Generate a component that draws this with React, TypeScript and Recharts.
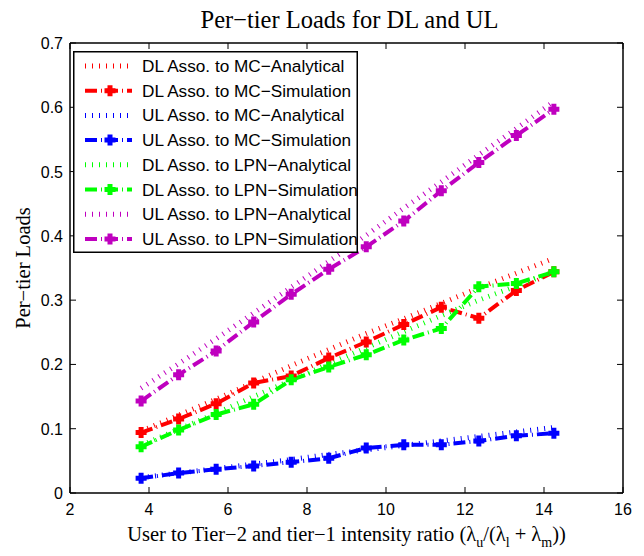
import React from 'react';
import {
  LineChart,
  Line,
  XAxis,
  YAxis,
  Legend,
} from 'recharts';

// x positions (user / tier intensity ratio)
const ratios = [3.8, 4.75, 5.7, 6.65, 7.6, 8.55, 9.5, 10.45, 11.4, 12.35, 13.3, 14.25];

const dlMcAnalytical = [0.096, 0.121, 0.146, 0.172, 0.198, 0.223, 0.248, 0.271, 0.295, 0.319, 0.342, 0.365];
const dlMcSimulation = [0.094, 0.115, 0.139, 0.171, 0.182, 0.21, 0.235, 0.262, 0.289, 0.272, 0.315, 0.344];
const ulMcAnalytical = [0.024, 0.031, 0.038, 0.045, 0.052, 0.06, 0.067, 0.074, 0.081, 0.088, 0.095, 0.102];
const ulMcSimulation = [0.023, 0.031, 0.037, 0.042, 0.048, 0.054, 0.07, 0.075, 0.075, 0.081, 0.089, 0.093];
const dlLpnAnalytical = [0.074, 0.099, 0.124, 0.15, 0.175, 0.201, 0.226, 0.251, 0.276, 0.3, 0.322, 0.344];
const dlLpnSimulation = [0.072, 0.098, 0.122, 0.138, 0.176, 0.196, 0.215, 0.238, 0.256, 0.321, 0.326, 0.344];
const ulLpnAnalytical = [0.163, 0.201, 0.24, 0.28, 0.32, 0.36, 0.401, 0.443, 0.484, 0.526, 0.567, 0.609];
const ulLpnSimulation = [0.143, 0.184, 0.221, 0.266, 0.309, 0.348, 0.383, 0.423, 0.47, 0.514, 0.556, 0.597];

const xTicks = [2, 4, 6, 8, 10, 12, 14, 16];
const yTicks = [0, 0.1, 0.2, 0.3, 0.4, 0.5, 0.6, 0.7];

const series = [
  { key: 'dlMcA', name: 'DL Asso. to MC\u2212Analytical', color: '#ff0000', sim: false, values: dlMcAnalytical },
  { key: 'dlMcS', name: 'DL Asso. to MC\u2212Simulation', color: '#ff0000', sim: true, values: dlMcSimulation },
  { key: 'ulMcA', name: 'UL Asso. to MC\u2212Analytical', color: '#0000ff', sim: false, values: ulMcAnalytical },
  { key: 'ulMcS', name: 'UL Asso. to MC\u2212Simulation', color: '#0000ff', sim: true, values: ulMcSimulation },
  { key: 'dlLpnA', name: 'DL Asso. to LPN\u2212Analytical', color: '#00ff00', sim: false, values: dlLpnAnalytical },
  { key: 'dlLpnS', name: 'DL Asso. to LPN\u2212Simulation', color: '#00ff00', sim: true, values: dlLpnSimulation },
  { key: 'ulLpnA', name: 'UL Asso. to LPN\u2212Analytical', color: '#bf00bf', sim: false, values: ulLpnAnalytical },
  { key: 'ulLpnS', name: 'UL Asso. to LPN\u2212Simulation', color: '#bf00bf', sim: true, values: ulLpnSimulation },
];

const data = ratios.map((x, i) => {
  const row: Record<string, number> = { x };
  series.forEach(s => { row[s.key] = s.values[i]; });
  return row;
});

const SANS = '"Liberation Sans", Arial, sans-serif';
const SERIF = '"Liberation Serif", "Times New Roman", serif';

const SIM_DASH = '12 4 1 4';
const ANA_DASH = '1 6';

const PlusMarker = (props: any) => {
  const { cx, cy, stroke } = props;
  if (cx == null || cy == null) return null;
  return (
    <path
      d={`M${cx - 5.5},${cy}H${cx + 5.5}M${cx},${cy - 5.5}V${cy + 5.5}`}
      stroke={stroke}
      strokeWidth={5}
      fill="none"
    />
  );
};

const BottomTick = (props: any) => {
  const { x, y, payload } = props;
  return (
    <g>
      <line x1={x} y1={y} x2={x} y2={y - 6} stroke="#000" />
      <text x={x} y={y + 22} textAnchor="middle" fontFamily={SANS} fontSize={16} fill="#000">
        {payload.value}
      </text>
    </g>
  );
};

const TopTick = (props: any) => {
  const { x, y } = props;
  return <line x1={x} y1={y} x2={x} y2={y + 6} stroke="#000" />;
};

const LeftTick = (props: any) => {
  const { x, y, payload } = props;
  return (
    <g>
      <line x1={x} y1={y} x2={x + 6} y2={y} stroke="#000" />
      <text x={x - 7} y={y + 6} textAnchor="end" fontFamily={SANS} fontSize={16} fill="#000">
        {payload.value}
      </text>
    </g>
  );
};

const RightTick = (props: any) => {
  const { x, y } = props;
  return <line x1={x} y1={y} x2={x - 6} y2={y} stroke="#000" />;
};

const XLabel = (props: any) => {
  const { viewBox } = props;
  const cx = viewBox.x + viewBox.width / 2;
  return (
    <text x={cx} y={viewBox.y + 48} textAnchor="middle" fontFamily={SERIF} fontSize={20.5} fill="#000">
      User to Tier−2 and tier−1 intensity ratio (λ
      <tspan dy={6} fontSize={14}>u</tspan>
      <tspan dy={-6}>/(λ</tspan>
      <tspan dy={6} fontSize={14}>l</tspan>
      <tspan dy={-6}> + λ</tspan>
      <tspan dy={6} fontSize={14}>m</tspan>
      <tspan dy={-6}>))</tspan>
    </text>
  );
};

const YLabel = (props: any) => {
  const { viewBox } = props;
  const cy = viewBox.y + viewBox.height / 2;
  return (
    <text
      x={30}
      y={cy}
      transform={`rotate(-90, 30, ${cy})`}
      textAnchor="middle"
      fontFamily={SERIF}
      fontSize={20.5}
      fill="#000"
    >
      Per−tier Loads
    </text>
  );
};

const Title = (props: any) => {
  const { viewBox } = props;
  return (
    <text
      x={viewBox.x + viewBox.width / 2 + 3}
      y={28}
      textAnchor="middle"
      fontFamily={SERIF}
      fontSize={24.5}
      fill="#000"
    >
      Per−tier Loads for DL and UL
    </text>
  );
};

const LegendBox = () => (
  <svg width={285} height={202} style={{ display: 'block' }}>
    <rect x={0.75} y={0.75} width={283.5} height={200.5} fill="#fff" stroke="#000" strokeWidth={1.5} />
    {series.map((s, i) => {
      const cy = 15 + i * 24.7;
      return (
        <g key={s.key}>
          <line
            x1={12}
            x2={59}
            y1={cy}
            y2={cy}
            stroke={s.color}
            strokeWidth={s.sim ? 4 : 5}
            strokeDasharray={s.sim ? SIM_DASH : ANA_DASH}
          />
          {s.sim && <PlusMarker cx={37} cy={cy} stroke={s.color} />}
          <text x={69} y={cy + 6} fontFamily={SANS} fontSize={17.2} fill="#000">
            {s.name}
          </text>
        </g>
      );
    })}
  </svg>
);

export default function App() {
  return (
    <div style={{ position: 'absolute', left: 0, top: 0, width: 644, height: 556, background: '#fff' }}>
      <LineChart width={644} height={556} data={data} margin={{ top: 42, right: 20, bottom: 0, left: 0 }}>
        <XAxis
          dataKey="x"
          type="number"
          domain={[2, 16]}
          ticks={xTicks}
          interval={0}
          height={63}
          tickSize={0}
          tickMargin={0}
          tickLine={false}
          tick={<BottomTick />}
          axisLine={{ stroke: '#000', strokeWidth: 1.5 }}
          label={<XLabel />}
          allowDataOverflow
        />
        <XAxis
          xAxisId="top"
          orientation="top"
          dataKey="x"
          type="number"
          domain={[2, 16]}
          ticks={xTicks}
          interval={0}
          height={1}
          tickSize={0}
          tickMargin={0}
          tickLine={false}
          tick={<TopTick />}
          axisLine={{ stroke: '#000', strokeWidth: 1.5 }}
          label={<Title />}
          allowDataOverflow
        />
        <YAxis
          type="number"
          domain={[0, 0.7]}
          ticks={yTicks}
          interval={0}
          width={70}
          tickSize={0}
          tickMargin={0}
          tickLine={false}
          tick={<LeftTick />}
          axisLine={{ stroke: '#000', strokeWidth: 1.5 }}
          label={<YLabel />}
          allowDataOverflow
        />
        <YAxis
          yAxisId="right"
          orientation="right"
          type="number"
          domain={[0, 0.7]}
          ticks={yTicks}
          interval={0}
          width={1}
          tickSize={0}
          tickMargin={0}
          tickLine={false}
          tick={<RightTick />}
          axisLine={{ stroke: '#000', strokeWidth: 1.5 }}
          allowDataOverflow
        />
        <Legend
          layout="vertical"
          align="center"
          verticalAlign="middle"
          content={<LegendBox />}
          wrapperStyle={{ left: 73, top: 51, width: 285, height: 202 }}
        />
        {series.map(s =>
          s.sim ? (
            <Line
              key={s.key}
              dataKey={s.key}
              name={s.name}
              type="linear"
              stroke={s.color}
              strokeWidth={4}
              strokeDasharray={SIM_DASH}
              dot={<PlusMarker />}
              activeDot={false}
              isAnimationActive={false}
            />
          ) : (
            <Line
              key={s.key}
              dataKey={s.key}
              name={s.name}
              type="linear"
              stroke={s.color}
              strokeWidth={5}
              strokeDasharray={ANA_DASH}
              dot={false}
              activeDot={false}
              isAnimationActive={false}
            />
          )
        )}
      </LineChart>
    </div>
  );
}
